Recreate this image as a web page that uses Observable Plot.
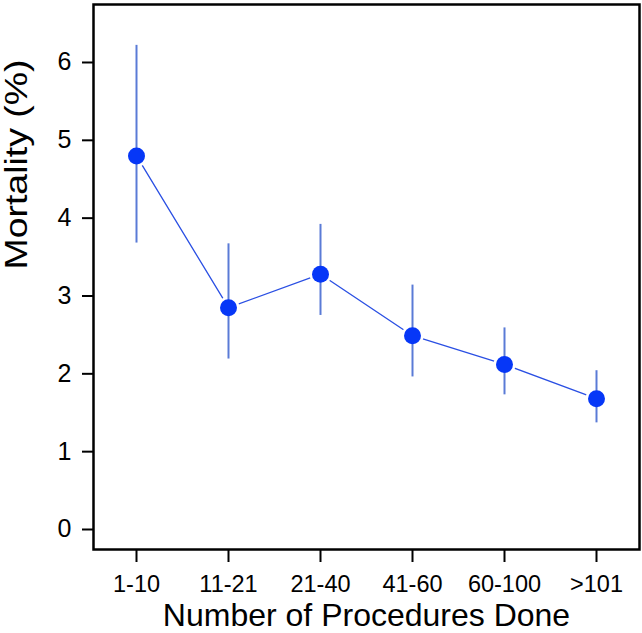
<!DOCTYPE html>
<html>
<head>
<meta charset="utf-8">
<script src="https://cdn.jsdelivr.net/npm/d3@7"></script>
<script src="https://cdn.jsdelivr.net/npm/@observablehq/plot@0.6"></script>
<style>
  html, body { margin: 0; padding: 0; background: #fff; }
  #chart svg { display: block; }
</style>
</head>
<body>
<div id="chart"></div>
<script>
const categories = ["1-10", "11-21", "21-40", "41-60", "60-100", ">101"];
const mortality = [4.80, 2.85, 3.28, 2.49, 2.12, 1.68];
const lower = [3.68, 2.19, 2.75, 1.96, 1.73, 1.37];
const upper = [6.22, 3.67, 3.92, 3.14, 2.59, 2.04];
const yTicks = [0, 1, 2, 3, 4, 5, 6];
const xTitle = "Number of Procedures Done";
const yTitle = "Mortality (%)";

const data = categories.map((c, i) => ({cat: c, m: mortality[i], lo: lower[i], hi: upper[i]}));

const font = "'Liberation Sans', Arial, Helvetica, sans-serif";

const plot = Plot.plot({
  width: 642,
  height: 633,
  marginLeft: 93,
  marginRight: 3,
  marginTop: 4,
  marginBottom: 84,
  style: {fontFamily: font, background: "#fff", color: "#000"},
  x: {type: "point", domain: categories, padding: 0.467, label: null},
  y: {domain: [-0.257, 6.745], label: null},
  marks: [
    Plot.axisX({tickSize: 13, tickPadding: 13, fontSize: 23.5, label: null, stroke: "#000", strokeWidth: 2}),
    Plot.axisY({ticks: yTicks, tickSize: 11, tickPadding: 11, fontSize: 25, label: null, strokeWidth: 2, tickFormat: d3.format("d")}),
    Plot.line(data, {x: "cat", y: "m", stroke: "#2a4fe3", strokeWidth: 1.3}),
    Plot.dot(data, {x: "cat", y: "m", r: 11, fill: "#fff", stroke: "none"}),
    Plot.ruleX(data, {x: "cat", y1: "lo", y2: "hi", stroke: "#5a7bd6", strokeWidth: 2}),
    Plot.dot(data, {x: "cat", y: "m", r: 8.5, fill: "#0637f7", stroke: "none"}),
    Plot.frame({stroke: "#000", strokeWidth: 2.5}),
    Plot.text([xTitle], {frameAnchor: "bottom", lineAnchor: "top", dy: 54, fontSize: 32, fill: "#000"}),
    Plot.text([yTitle], {frameAnchor: "left", lineAnchor: "top", rotate: -90, dx: -89, dy: -7.5, fontSize: 31, fill: "#000"})
  ]
});

const svg = d3.select(plot);
svg.selectAll('g[aria-label="x-axis tick label"]').attr("font-size", 23.5).style("font-size", "23.5px");
svg.selectAll('g[aria-label="y-axis tick label"]').attr("font-size", 25).style("font-size", "25px");
svg.selectAll("text").filter(function() { return this.textContent === yTitle; })
  .attr("textLength", 210).attr("lengthAdjust", "spacingAndGlyphs");

document.getElementById("chart").appendChild(plot);
</script>
</body>
</html>
